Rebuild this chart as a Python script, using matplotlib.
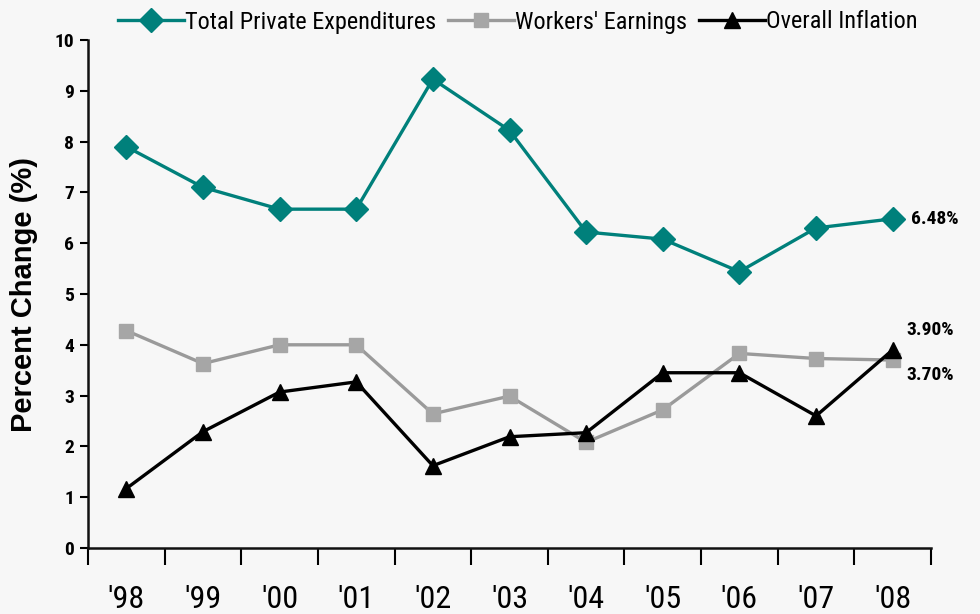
import matplotlib
matplotlib.use("Agg")
import matplotlib.pyplot as plt

years = ["'98", "'99", "'00", "'01", "'02", "'03", "'04", "'05", "'06", "'07", "'08"]
total_private = [7.9, 7.1, 6.67, 6.67, 9.23, 8.22, 6.22, 6.08, 5.44, 6.3, 6.48]
workers_earnings = [4.28, 3.63, 4.0, 4.0, 2.64, 2.99, 2.08, 2.72, 3.83, 3.73, 3.70]
overall_inflation = [1.17, 2.29, 3.07, 3.27, 1.62, 2.19, 2.27, 3.45, 3.45, 2.60, 3.90]
series_names = ["Total Private Expenditures", "Workers' Earnings", "Overall Inflation"]
end_labels = ["6.48%", "3.70%", "3.90%"]

narrow = ["Roboto Condensed", "PT Sans Narrow", "DejaVu Sans"]
wide = ["Liberation Sans", "DejaVu Sans"]

bg = "#f7f7f7"
teal = "#00807b"
gray = "#a6a6a6"
black = "#000000"

fig = plt.figure(figsize=(9.8, 6.14), dpi=100, facecolor=bg)
ax = fig.add_axes([88/980, 1-548/614, (931-88)/980, (548-40)/614])
ax.set_facecolor(bg)

x = list(range(len(years)))
l1, = ax.plot(x, total_private, color=teal, lw=2.4, marker="D", ms=12, mfc=teal, mec=teal,
              label=series_names[0], zorder=3)
l2, = ax.plot(x, workers_earnings, color="#9a9a9a", lw=2.4, marker="s", ms=10, mfc=gray, mec=gray,
              label=series_names[1], zorder=2)
l3, = ax.plot(x, overall_inflation, color=black, lw=2.4, marker="^", ms=11, mfc=black, mec=black,
              label=series_names[2], zorder=4)

ax.set_xlim(-0.5, len(years) - 0.5)
ax.set_ylim(0, 10)
ax.set_yticks(range(0, 11))
ax.set_yticklabels([str(v) for v in range(0, 11)], fontfamily=narrow, fontweight="bold", fontsize=14)
ax.set_xticks([i - 0.5 for i in range(len(years) + 1)])
ax.set_xticklabels([])
ax.set_xticks(x, minor=True)
ax.set_xticklabels(years, minor=True, fontfamily=narrow, fontsize=23)
ax.tick_params(axis="x", which="major", length=12, width=1.5, direction="out")
ax.tick_params(axis="x", which="minor", length=0, pad=27)
ax.tick_params(axis="y", length=6, width=1.5, direction="out", pad=4)

for s in ["top", "right"]:
    ax.spines[s].set_visible(False)
for s in ["left", "bottom"]:
    ax.spines[s].set_linewidth(1.8)
    ax.spines[s].set_color("#111111")

ax.set_ylabel("Percent Change (%)", fontfamily=wide, fontweight="bold", fontsize=21, labelpad=12)

last = len(years) - 1
ax.annotate(end_labels[0], (last, total_private[-1]), xytext=(13, 0), textcoords="offset points",
            va="center", ha="left", fontfamily=narrow, fontweight="bold", fontsize=14)
ax.annotate(end_labels[1], (last, workers_earnings[-1]), xytext=(10, -11), textcoords="offset points",
            va="center", ha="left", fontfamily=narrow, fontweight="bold", fontsize=14)
ax.annotate(end_labels[2], (last, overall_inflation[-1]), xytext=(10, 14), textcoords="offset points",
            va="center", ha="left", fontfamily=narrow, fontweight="bold", fontsize=14)

leg = fig.legend(handles=[l1, l2, l3], loc="center", bbox_to_anchor=(518/980, 1-22/614), ncol=3,
                 frameon=False, prop={"family": narrow, "size": 17.5}, handlelength=2.7,
                 handletextpad=0.05, columnspacing=0.5, borderaxespad=0)

fig.savefig("out.png", dpi=100, facecolor=bg)
